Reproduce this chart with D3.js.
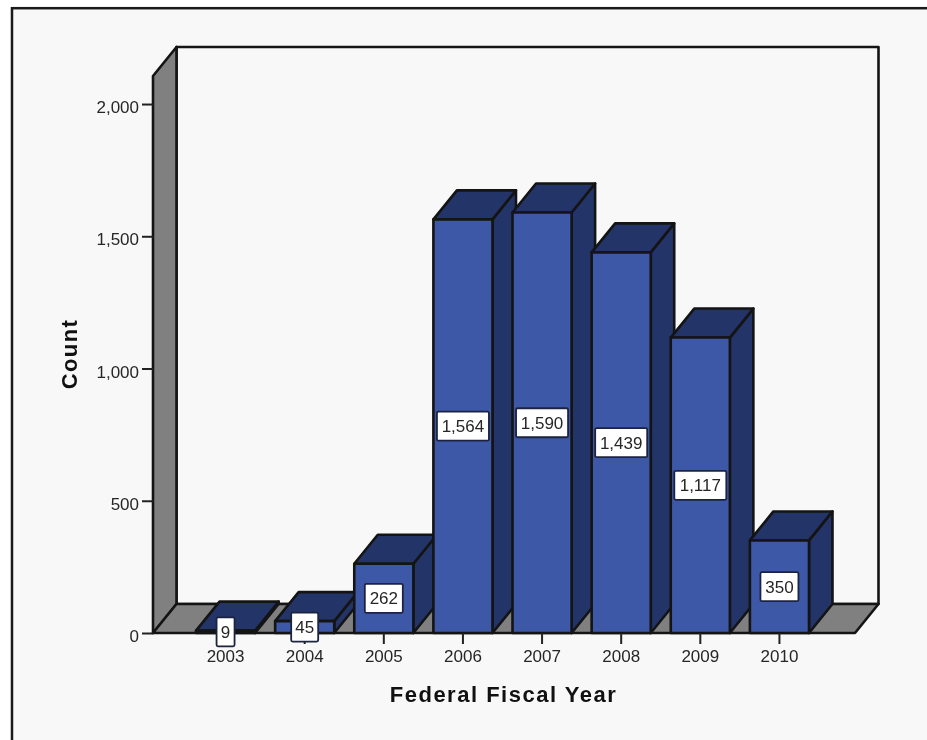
<!DOCTYPE html>
<html><head><meta charset="utf-8">
<script src="https://cdn.jsdelivr.net/npm/d3@7/dist/d3.min.js"></script>
<style>html,body{margin:0;padding:0;background:#fff;overflow:hidden}svg{display:block;filter:blur(0.45px)}text{font-family:Arial,"Liberation Sans",sans-serif}</style>
</head><body><svg id="c" width="927" height="740"></svg>
<script>
const years = ["2003","2004","2005","2006","2007","2008","2009","2010"];
const counts = [9,45,262,1564,1590,1439,1117,350];
const yTicks = [0,500,1000,1500,2000];
const xLabel = "Federal Fiscal Year";
const yLabel = "Count";

const svg = d3.select("#c");
const ink = "#141414", gray = "#808080", front = "#3e58a8", dark = "#233468", plotBg = "#f8f8f8";
const tickFont = 17;
const dx = 23.5, dy = -29;
const y = d3.scaleLinear().domain([0,2106]).range([633,76]);
const x = d3.scaleBand().domain(years).range([186,819]).paddingInner(20/79).paddingOuter(10/79);

svg.append("rect").attr("width",927).attr("height",740).attr("fill","#fff");
svg.append("rect").attr("x",12).attr("y",8.2).attr("width",1000).attr("height",1000)
  .attr("fill","#f8f8f8").attr("stroke","#1a1a1a").attr("stroke-width",2.5);

const poly = (pts,fill,w=2.6)=>svg.append("polygon").attr("points",pts.map(p=>p.join(",")).join(" "))
  .attr("fill",fill).attr("stroke",ink).attr("stroke-width",w).attr("stroke-linejoin","round");

const x0 = 153, x1 = 855, yB = y(0), yT = y(2106);
poly([[x0+dx,yT+dy],[x1+dx,yT+dy],[x1+dx,yB+dy],[x0+dx,yB+dy]],plotBg);
poly([[x0,yT],[x0+dx,yT+dy],[x0+dx,yB+dy],[x0,yB]],gray);
poly([[x0,yB],[x0+dx,yB+dy],[x1+dx,yB+dy],[x1,yB]],gray);

years.forEach((yr,i)=>{
  const l = x(yr), r = l+x.bandwidth(), t = y(counts[i]);
  poly([[r,t],[r+dx,t+dy],[r+dx,yB+dy],[r,yB]],dark);
  poly([[l,t],[l+dx,t+dy],[r+dx,t+dy],[r,t]],dark);
  poly([[l,t],[r,t],[r,yB],[l,yB]],front);
});

const axY = svg.append("g").attr("transform",`translate(${x0},0)`)
  .call(d3.axisLeft(y).tickValues(yTicks).tickSize(11).tickPadding(3).tickSizeOuter(0).tickFormat(d3.format(",")));
axY.select(".domain").remove();
axY.selectAll("line").attr("stroke","#222").attr("stroke-width",2);
axY.selectAll("text").attr("font-size",tickFont).attr("fill","#262626").attr("dy","0.5em");

const axX = svg.append("g").attr("transform",`translate(0,${yB})`)
  .call(d3.axisBottom(x).tickSize(11).tickPadding(0).tickSizeOuter(0));
axX.select(".domain").remove();
axX.selectAll("line").attr("stroke","#222").attr("stroke-width",2);
axX.selectAll("text").attr("font-size",tickFont).attr("fill","#262626").attr("dy","1.05em");

years.forEach((yr,i)=>{
  const cx = x(yr)+x.bandwidth()/2, cy = (y(0)+y(counts[i]))/2;
  const s = d3.format(",")(counts[i]);
  const w = s.length===1?18:s.length===2?27:s.length===3?38:52;
  const h = 29;
  svg.append("rect").attr("x",cx-w/2).attr("y",cy-h/2).attr("width",w).attr("height",h).attr("rx",1.5)
    .attr("fill","#fff").attr("stroke","#1c2340").attr("stroke-width",1.8);
  svg.append("text").attr("x",cx).attr("y",cy+6).attr("text-anchor","middle")
    .attr("font-size",tickFont).attr("fill","#262626").text(s);
});

svg.append("text").attr("x",503.5).attr("y",702).attr("text-anchor","middle")
  .attr("font-size",22).attr("font-weight","bold").attr("letter-spacing",1.5).attr("fill","#111").text(xLabel);
svg.append("text").attr("transform","translate(77,354) rotate(-90)").attr("text-anchor","middle")
  .attr("font-size",22).attr("font-weight","bold").attr("letter-spacing",1.4).attr("fill","#111").text(yLabel);
</script></body></html>
